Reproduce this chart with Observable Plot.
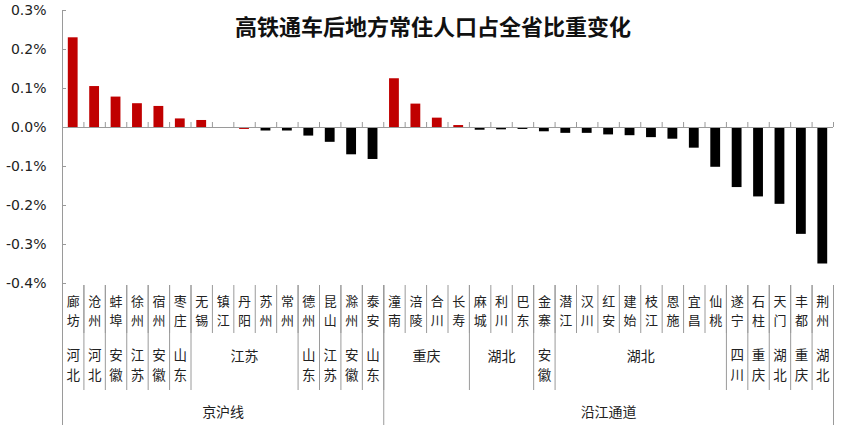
<!DOCTYPE html>
<html><head><meta charset="utf-8">
<script src="https://cdn.jsdelivr.net/npm/d3@7"></script>
<script src="https://cdn.jsdelivr.net/npm/@observablehq/plot@0.6"></script>
<style>body{margin:0;background:#fff}</style>
</head><body><div id="chart"></div>
<script>
const title = "高铁通车后地方常住人口占全省比重变化";
const cities = ["廊坊","沧州","蚌埠","徐州","宿州","枣庄","无锡","镇江","丹阳","苏州","常州","德州","昆山","滁州","泰安",
  "潼南","涪陵","合川","长寿","麻城","利川","巴东","金寨","潜江","汉川","红安","建始","枝江","恩施","宜昌","仙桃","遂宁","石柱","天门","丰都","荆州"];
// change in share of provincial resident population, %
const values = [0.230,0.105,0.078,0.061,0.054,0.022,0.018,0.000,-0.005,-0.009,-0.009,-0.022,-0.038,-0.070,-0.082,
  0.125,0.060,0.024,0.005,-0.007,-0.006,-0.005,-0.011,-0.015,-0.015,-0.019,-0.021,-0.026,-0.030,-0.053,-0.102,-0.154,-0.178,-0.197,-0.274,-0.350];
const rising = ["廊坊","沧州","蚌埠","徐州","宿州","枣庄","无锡","镇江","丹阳","潼南","涪陵","合川","长寿"];
const provinceSpans = [["河北",1],["河北",1],["安徽",1],["江苏",1],["安徽",1],["山东",1],["江苏",5],["山东",1],["江苏",1],["安徽",1],["山东",1],
  ["重庆",4],["湖北",3],["安徽",1],["湖北",8],["四川",1],["重庆",1],["湖北",1],["重庆",1],["湖北",1]];
const groupSpans = [["京沪线",15],["沿江通道",21]];
const yTicks = [-0.4,-0.3,-0.2,-0.1,0,0.1,0.2,0.3];

const data = cities.map((c,i)=>({city:c, i, value: values[i], up: rising.includes(c)}));
function spans(list){ let s=0; return list.map(([name,n])=>{const o={name,start:s,end:s+n}; s+=n; return o;}); }
const provinces = spans(provinceSpans);
const groups = spans(groupSpans);
const isVertical = s => s.end - s.start === 1;
// one row per character for vertically stacked labels
const charRows = (items, label, pos) => items.flatMap(d => Array.from(label(d)).map((ch, k) => ({ch, k, x: pos(d)})));

const W=865, H=425, mL=62, mR=32, mT=10, mB=142;
const grey = "#9a9a9a";
const cjk = "'Noto Sans CJK SC', sans-serif";
const cityChars = charRows(data, d => d.city, d => d.i + 0.5);
const provChars = charRows(provinces.filter(isVertical), d => d.name, d => (d.start + d.end) / 2);

const plot = Plot.plot({
  width: W, height: H, marginLeft: mL, marginRight: mR, marginTop: mT, marginBottom: mB,
  style: {fontFamily: cjk, background: "#fff", color: "#222"},
  x: {domain: [0, cities.length], axis: null},
  y: {domain: [-0.4, 0.3], axis: null, label: null},
  color: {domain: [true, false], range: ["#C00000", "#000000"]},
  marks: [
    Plot.rectY(data, {x1: d=>d.i, x2: d=>d.i+1, y1: 0, y2: "value", fill: "up", insetLeft: 5.8, insetRight: 5.8}),
    Plot.ruleY([0], {stroke: grey}),
    Plot.ruleX(d3.range(1, cities.length+1), {x: d=>d, y1: 0, y2: 0, insetTop: -5, stroke: grey}),
    Plot.axisY(yTicks, {tickSize: 0, tickPadding: 16, label: null, tickFormat: d => d.toFixed(1)+"%", fontSize: 14, fontFamily: "'DejaVu Sans', sans-serif", fill: "#222"}),
    Plot.tickY(yTicks, {y: d=>d, insetRight: (W-mL-mR) - 4, stroke: grey}),
    // y axis line extended into category table
    Plot.ruleX([0], {stroke: grey, insetBottom: -(mB)}),
    // city-level separators
    Plot.ruleX(d3.range(1, cities.length+1), {x: d=>d, stroke: grey, insetTop: (H-mB-mT)+2, insetBottom: -50}),
    // province-level separators
    Plot.ruleX(provinces, {x: d=>d.end, stroke: grey, insetTop: (H-mB-mT)+2, insetBottom: -107}),
    // group separators
    Plot.ruleX(groups, {x: d=>d.end, stroke: grey, insetTop: (H-mB-mT)+2, insetBottom: -(mB)}),
    Plot.text([title], {frameAnchor: "top", lineAnchor: "middle", dy: 17, dx: -15, fontSize: 22, fontWeight: "bold", fill: "#111"}),
    // city names, stacked characters
    Plot.text(cityChars.filter(d=>d.k===0), {x: "x", text: "ch", frameAnchor: "bottom", lineAnchor: "middle", dy: 18, fontSize: 13, fill: "#222"}),
    Plot.text(cityChars.filter(d=>d.k===1), {x: "x", text: "ch", frameAnchor: "bottom", lineAnchor: "middle", dy: 37, fontSize: 13, fill: "#222"}),
    // single-column provinces, stacked characters
    Plot.text(provChars.filter(d=>d.k===0), {x: "x", text: "ch", frameAnchor: "bottom", lineAnchor: "middle", dy: 72, fontSize: 13.5, fill: "#222"}),
    Plot.text(provChars.filter(d=>d.k===1), {x: "x", text: "ch", frameAnchor: "bottom", lineAnchor: "middle", dy: 92.5, fontSize: 13.5, fill: "#222"}),
    // multi-column provinces
    Plot.text(provinces.filter(d=>!isVertical(d)), {x: d=>(d.start+d.end)/2, text: "name", frameAnchor: "bottom", lineAnchor: "middle", dy: 73, fontSize: 14, fill: "#222"}),
    Plot.text(groups, {x: d=>(d.start+d.end)/2, text: "name", frameAnchor: "bottom", lineAnchor: "middle", dy: 129, fontSize: 14, fill: "#222"})
  ]
});
document.getElementById("chart").append(plot);
</script>
</body></html>
